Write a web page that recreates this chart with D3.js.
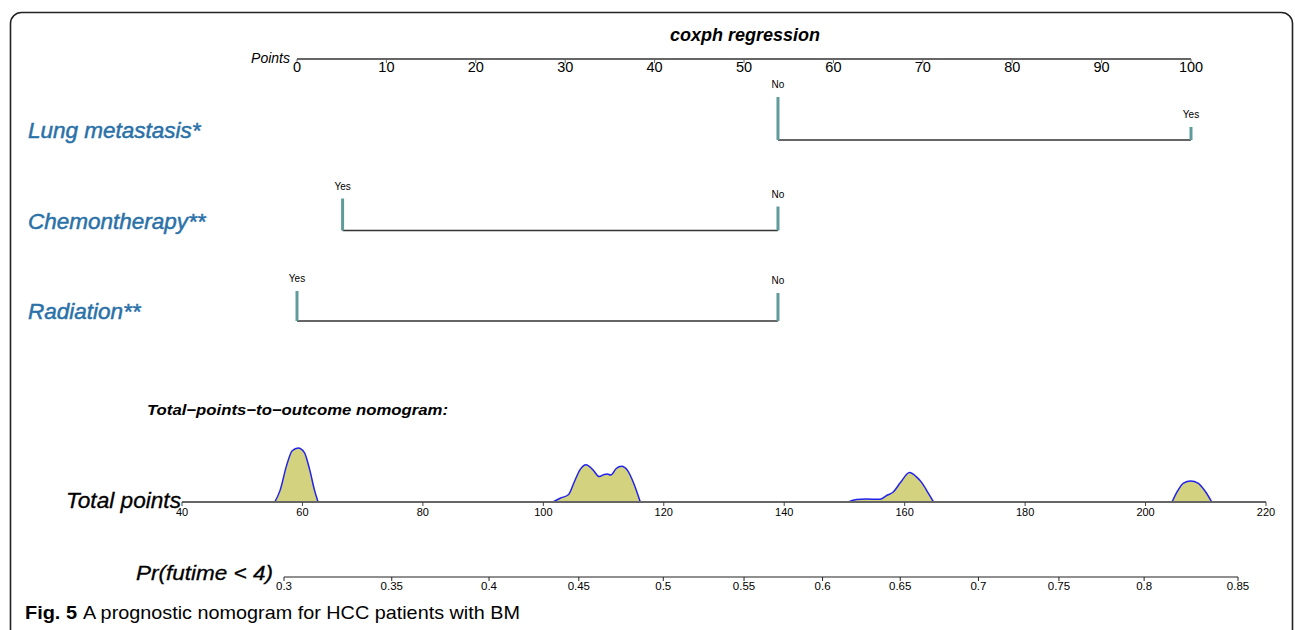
<!DOCTYPE html>
<html>
  <head>
    <title>Nomogram</title>
    <meta charset="utf-8">
    <script type="text/javascript" src="https://d3js.org/d3.v7.min.js"></script>
    <style>
      body { margin: 0; background: #fff; }
      text { font-family: "Liberation Sans", Arial, sans-serif; }
    </style>
  </head>
  <body>
    <svg></svg>
    <script type="text/javascript">
      "use strict";

      // tick labels
      var pointTicks = [0, 10, 20, 30, 40, 50, 60, 70, 80, 90, 100];
      var totalTicks = [40, 60, 80, 100, 120, 140, 160, 180, 200, 220];
      var probTicks = [0.3, 0.35, 0.4, 0.45, 0.5, 0.55, 0.6, 0.65, 0.7, 0.75, 0.8, 0.85];

      // predictors, their levels, points and relative frequency
      var variables = ["Lung metastasis*", "Chemontherapy**", "Radiation**"];
      var levelNames = [["No", "Yes"], ["Yes", "No"], ["Yes", "No"]];
      var levelPoints = [[53.8, 100], [5.1, 53.8], [0, 53.8]];
      var levelFreq = [[0.43, 0.13], [0.32, 0.24], [0.30, 0.28]];

      // density of total points, [total points, density]
      var density1 = [[55.4, 0], [56.3, 0.22], [57.3, 0.65], [58.3, 0.95], [59.3, 1.0],
                      [60.3, 0.92], [61.2, 0.6], [62.0, 0.22], [62.6, 0]];
      var density2 = [[101.6, 0], [102.8, 0.07], [104.2, 0.14], [105.1, 0.36], [106.1, 0.6],
                      [107.1, 0.69], [108.2, 0.6], [109.3, 0.47], [110.1, 0.51], [110.6, 0.52],
                      [111.2, 0.5], [112.1, 0.62], [113.0, 0.66], [114.0, 0.58], [115.1, 0.32], [116.1, 0]];
      var density3 = [[150.6, 0], [152.0, 0.045], [153.6, 0.055], [155.9, 0.05], [157.0, 0.12],
                      [158.1, 0.185], [159.3, 0.36], [160.8, 0.545], [162.0, 0.46], [162.9, 0.35],
                      [163.9, 0.17], [164.8, 0]];
      var density4 = [[204.4, 0], [205.3, 0.2], [206.3, 0.35], [207.5, 0.39], [208.7, 0.35],
                      [209.9, 0.2], [211.0, 0]];
      var densities = [density1, density2, density3, density4];

      var width = 1295, height = 630;
      var svg = d3.select("svg").attr("width", width).attr("height", height);

      // frame
      svg.append("rect")
         .attr("x", 10.5).attr("y", 12.5)
         .attr("width", 1282).attr("height", 660)
         .attr("rx", 11).attr("ry", 11)
         .attr("fill", "none").attr("stroke", "#222").attr("stroke-width", 1.6);

      var xPoints = d3.scaleLinear().domain([0, 100]).range([297, 1191]);
      var xTotal = d3.scaleLinear().domain([40, 220]).range([182, 1266]);
      var cloglog = function(p) { return Math.log(-Math.log(1 - p)); };
      var xProbLin = d3.scaleLinear().domain([cloglog(0.3), cloglog(0.85)]).range([284, 1238]);
      var xProb = function(p) { return xProbLin(cloglog(p)); };

      // title
      svg.append("text")
         .attr("x", 745).attr("y", 41)
         .attr("text-anchor", "middle")
         .attr("font-size", 18).attr("font-weight", "bold").attr("font-style", "italic")
         .text("coxph regression");

      // Points axis
      var yPoints = 59;
      svg.append("line")
         .attr("x1", xPoints(0)).attr("x2", xPoints(100))
         .attr("y1", yPoints).attr("y2", yPoints)
         .attr("stroke", "#666").attr("stroke-width", 2);
      svg.selectAll(".ptick").data(pointTicks).enter().append("line")
         .attr("x1", function(d) { return xPoints(d); })
         .attr("x2", function(d) { return xPoints(d); })
         .attr("y1", yPoints).attr("y2", yPoints + 4)
         .attr("stroke", "#666").attr("stroke-width", 1);
      svg.selectAll(".plab").data(pointTicks).enter().append("text")
         .attr("x", function(d) { return xPoints(d); })
         .attr("y", yPoints + 13)
         .attr("text-anchor", "middle").attr("font-size", 14.5)
         .text(function(d) { return d; });
      svg.append("text")
         .attr("x", 290).attr("y", 63)
         .attr("text-anchor", "end").attr("font-size", 14).attr("font-style", "italic")
         .text("Points");

      // predictor rows
      var yRow = d3.scalePoint().domain(variables).range([140, 321]);
      var barH = d3.scaleLinear().domain([0, 1]).range([0, 100]);

      variables.forEach(function(v, i) {
        var y0 = yRow(v);
        var pts = levelPoints[i];
        svg.append("text")
           .attr("x", 28).attr("y", y0 - 2)
           .attr("font-size", 22.5).attr("font-style", "italic")
           .attr("fill", "#2a71a8").attr("stroke", "#2a71a8").attr("stroke-width", 0.5)
           .text(v);
        svg.append("line")
           .attr("x1", xPoints(d3.min(pts))).attr("x2", xPoints(d3.max(pts)))
           .attr("y1", y0).attr("y2", y0)
           .attr("stroke", "#333").attr("stroke-width", 1.3);
        pts.forEach(function(p, j) {
          var top = y0 - barH(levelFreq[i][j]);
          svg.append("line")
             .attr("x1", xPoints(p)).attr("x2", xPoints(p))
             .attr("y1", y0).attr("y2", top)
             .attr("stroke", "#5f9b9b").attr("stroke-width", 3);
          svg.append("text")
             .attr("x", xPoints(p)).attr("y", top - 9)
             .attr("text-anchor", "middle").attr("font-size", 10)
             .text(levelNames[i][j]);
        });
      });

      // total points section
      svg.append("text")
         .attr("x", 147).attr("y", 415)
         .attr("font-size", 15).attr("font-weight", "bold").attr("font-style", "italic")
         .attr("textLength", 301).attr("lengthAdjust", "spacingAndGlyphs")
         .text("Total\u2212points\u2212to\u2212outcome nomogram:");

      var yTotal = 502;
      var yDens = d3.scaleLinear().domain([0, 1]).range([yTotal, yTotal - 54]);
      var area = d3.area()
                   .x(function(d) { return xTotal(d[0]); })
                   .y0(yTotal)
                   .y1(function(d) { return yDens(d[1]); })
                   .curve(d3.curveMonotoneX);
      var line = d3.line()
                   .x(function(d) { return xTotal(d[0]); })
                   .y(function(d) { return yDens(d[1]); })
                   .curve(d3.curveMonotoneX);
      svg.selectAll(".dens").data(densities).enter().append("path")
         .attr("d", area).attr("fill", "#d3d37f");
      svg.selectAll(".densline").data(densities).enter().append("path")
         .attr("d", line).attr("fill", "none")
         .attr("stroke", "#2222ee").attr("stroke-width", 1.5);

      svg.append("line")
         .attr("x1", xTotal(40)).attr("x2", xTotal(220))
         .attr("y1", yTotal).attr("y2", yTotal)
         .attr("stroke", "#666").attr("stroke-width", 2);
      svg.selectAll(".ttick").data(totalTicks).enter().append("line")
         .attr("x1", function(d) { return xTotal(d); })
         .attr("x2", function(d) { return xTotal(d); })
         .attr("y1", yTotal).attr("y2", yTotal + 4)
         .attr("stroke", "#444").attr("stroke-width", 1);
      svg.selectAll(".tlab").data(totalTicks).enter().append("text")
         .attr("x", function(d) { return xTotal(d); })
         .attr("y", yTotal + 14)
         .attr("text-anchor", "middle").attr("font-size", 11)
         .text(function(d) { return d; });
      svg.append("text")
         .attr("x", 66).attr("y", 508)
         .attr("font-size", 22).attr("font-style", "italic")
         .attr("stroke", "#000").attr("stroke-width", 0.3)
         .attr("textLength", 115).attr("lengthAdjust", "spacingAndGlyphs")
         .text("Total points");

      // probability axis
      var yProb = 577;
      svg.append("line")
         .attr("x1", xProb(0.3)).attr("x2", xProb(0.85))
         .attr("y1", yProb).attr("y2", yProb)
         .attr("stroke", "#222").attr("stroke-width", 1.2);
      svg.selectAll(".prtick").data(probTicks).enter().append("line")
         .attr("x1", function(d) { return xProb(d); })
         .attr("x2", function(d) { return xProb(d); })
         .attr("y1", yProb).attr("y2", yProb + 4)
         .attr("stroke", "#222").attr("stroke-width", 1);
      svg.selectAll(".prlab").data(probTicks).enter().append("text")
         .attr("x", function(d) { return xProb(d); })
         .attr("y", yProb + 13)
         .attr("text-anchor", "middle").attr("font-size", 11.5)
         .text(function(d) { return d; });
      svg.append("text")
         .attr("x", 136).attr("y", 580)
         .attr("font-size", 20).attr("font-style", "italic")
         .attr("stroke", "#000").attr("stroke-width", 0.3)
         .attr("textLength", 137).attr("lengthAdjust", "spacingAndGlyphs")
         .text("Pr(futime < 4)");

      // caption
      svg.append("text")
         .attr("x", 25).attr("y", 619)
         .attr("font-family", "'Liberation Sans Narrow', 'Open Sans', sans-serif")
         .attr("font-size", 19).attr("font-weight", "bold")
         .attr("textLength", 52).attr("lengthAdjust", "spacingAndGlyphs")
         .text("Fig. 5");
      svg.append("text")
         .attr("x", 83).attr("y", 619)
         .attr("font-family", "'Liberation Sans Narrow', 'Open Sans', sans-serif")
         .attr("font-size", 19)
         .attr("textLength", 437).attr("lengthAdjust", "spacingAndGlyphs")
         .text("A prognostic nomogram for HCC patients with BM");
    </script>
  </body>
</html>
